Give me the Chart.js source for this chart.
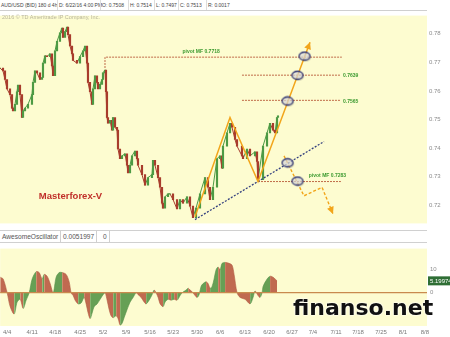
<!DOCTYPE html>
<html>
<head>
<meta charset="utf-8">
<script src="https://cdn.jsdelivr.net/npm/chart.js@4.4.0/dist/chart.umd.min.js"></script>
<style>
  body { margin: 0; width: 450px; height: 337px; overflow: hidden; background: #fff; position: relative;
         font-family: "Liberation Sans", Arial, sans-serif; }
  #hdr { position: absolute; left: 0; top: 0; width: 427px; height: 10px; border-bottom: 1px solid #cfcfcf;
         font-size: 5px; color: #444; line-height: 10px; white-space: nowrap; }
  #hdr span { position: absolute; top: 0; padding-left: 1px; border-left: 1px solid #ddd; }
  #copy { position: absolute; left: 2px; top: 14px; font-size: 5.5px; color: #b9b59c; white-space: nowrap; }
  #aoHdr { position: absolute; left: 0; top: 230px; width: 427px; height: 11px; border-top: 1px solid #d0d0d0;
           border-bottom: 1px solid #d0d0d0; font-size: 6.6px; color: #555; line-height: 11px; white-space: nowrap; }
  #aoHdr span { position: absolute; top: 0; padding: 0 2px; border-right: 1px solid #d0d0d0; }
  #mark { position: absolute; left: 293px; top: 297px; font: bold 22px "DejaVu Sans", sans-serif; color: #111;
          line-height: 22px; text-shadow: 0 0 2px #fff, 0 0 2px #fff; white-space: nowrap; }
  canvas { position: absolute; left: 0; }
</style>
</head>
<body>
<div id="hdr">
  <span style="left:0;border:none">AUD/USD (BID) 180 d 4h</span>
  <span style="left:57px">D: 6/22/16 4:00 PM</span>
  <span style="left:100px">O: 0.7508</span>
  <span style="left:128px">H: 0.7514</span>
  <span style="left:154px">L: 0.7497</span>
  <span style="left:178px">C: 0.7513</span>
  <span style="left:206px">R: 0.0017</span>
</div>
<canvas id="price" width="450" height="219" style="top:10px;width:450px;height:219px"></canvas>
<div id="copy">2016 © TD Ameritrade IP Company, Inc.</div>
<div id="aoHdr">
  <span style="left:0">AwesomeOscillator</span>
  <span style="left:61px">0.0051997</span>
  <span style="left:101px">0</span>
</div>
<canvas id="osc" width="450" height="95" style="top:242px;width:450px;height:95px"></canvas>
<div id="mark">finanso.net</div>

<script>
// x axis unit = trading day, 0 = 4/4
const weekLabels = ["4/4", "4/11", "4/18", "4/25", "5/2", "5/9", "5/16", "5/23", "5/30", "6/6",
  "6/13", "6/20", "6/27", "7/4", "7/11", "7/18", "7/25", "8/1", "8/8"];
const weekTickDays = [0, 5.38, 10.34, 15.72, 20.67, 25.62, 30.79, 35.75, 40.91, 45.87,
  51.25, 56.42, 61.37, 65.89, 70.84, 75.58, 80.53, 85.27, 90];
const priceTicks = [0.72, 0.73, 0.74, 0.75, 0.76, 0.77, 0.78];
const aoTicks = [0, 10];

const priceDays = [-1.51, -0.86, -0.43, 0, 0.65, 1.08, 1.29, 1.72, 2.15, 2.37,
  2.8, 3.23, 3.45, 3.88, 4.52, 5.38, 5.6, 6.03, 6.46, 7.11,
  7.54, 7.75, 8.18, 8.61, 9.26, 9.69, 9.91, 10.34, 10.77, 11.41,
  11.84, 12.06, 12.49, 12.92, 13.14, 13.57, 14, 14.21, 15.07, 15.72,
  16.37, 16.8, 17.23, 17.44, 17.87, 18.3, 18.52, 18.95, 19.38, 19.6,
  20.03, 20.46, 20.67, 21.1, 21.32, 21.53, 21.75, 22.18, 22.61, 22.83,
  23.26, 23.69, 23.9, 24.33, 24.76, 25.41, 25.84, 26.06, 26.49, 26.92,
  27.56, 27.99, 28.21, 29.07, 29.72, 30.36, 31.22, 31.44, 31.87, 32.52,
  32.95, 33.38, 33.59, 34.02, 34.67, 35.1, 35.75, 36.61, 37.25, 37.9,
  38.76, 39.41, 40.05, 40.7, 41.56, 42.64, 43.28, 43.71, 44.36, 45.22,
  45.87, 46.3, 46.51, 47.37, 48.03, 48.45, 49.1, 49.53, 50.6, 50.82,
  51.68, 52.33, 53.41, 53.84, 54.05, 55.13, 55.99, 56.63, 57.28, 57.71,
  58.14, 58.35];
const priceClose = [0.768, 0.767, 0.764, 0.7607, 0.7587, 0.754, 0.753, 0.7553, 0.7597, 0.762,
  0.7587, 0.7507, 0.753, 0.754, 0.7553, 0.7587, 0.763, 0.767, 0.7663, 0.764,
  0.7647, 0.7697, 0.7723, 0.772, 0.773, 0.7687, 0.7653, 0.774, 0.7773, 0.7803,
  0.782, 0.7787, 0.7807, 0.7823, 0.7797, 0.7757, 0.773, 0.7707, 0.7697, 0.772,
  0.774, 0.7757, 0.7697, 0.763, 0.7597, 0.7553, 0.7607, 0.7653, 0.763, 0.7607,
  0.7623, 0.764, 0.7663, 0.7673, 0.7597, 0.7507, 0.7487, 0.7497, 0.7463, 0.7507,
  0.7473, 0.7463, 0.7397, 0.7363, 0.7373, 0.738, 0.734, 0.7313, 0.734, 0.7373,
  0.739, 0.7363, 0.734, 0.7307, 0.727, 0.7297, 0.7307, 0.7357, 0.734, 0.7297,
  0.7263, 0.7207, 0.719, 0.723, 0.724, 0.724, 0.722, 0.7187, 0.722, 0.7207,
  0.723, 0.7197, 0.7157, 0.719, 0.724, 0.7297, 0.7263, 0.722, 0.7263, 0.7363,
  0.7373, 0.733, 0.7407, 0.7453, 0.7487, 0.7473, 0.743, 0.7407, 0.7373, 0.7363,
  0.7397, 0.7373, 0.7387, 0.7353, 0.729, 0.7407, 0.7453, 0.7487, 0.7463, 0.7453,
  0.7507, 0.7513];

const aoDays = [-1.51, -0.86, 0, 0.65, 1.51, 2.15, 2.8, 3.45, 4.09, 4.74,
  5.38, 6.24, 6.89, 7.54, 7.97, 8.61, 9.26, 9.91, 10.55, 11.2,
  11.84, 12.7, 13.35, 13.78, 14.21, 14.64, 15.29, 15.93, 16.58, 17.01,
  17.44, 17.87, 18.3, 18.73, 19.38, 20.03, 20.67, 21.1, 21.53, 21.96,
  22.39, 22.83, 23.47, 23.9, 24.33, 24.76, 25.19, 25.84, 26.49, 27.13,
  27.78, 28.21, 28.85, 29.5, 29.93, 30.58, 31.22, 31.65, 32.08, 32.52,
  32.95, 33.59, 34.02, 34.67, 35.31, 35.96, 36.61, 37.25, 37.68, 38.54,
  38.98, 39.41, 40.05, 40.48, 40.91, 41.34, 41.77, 42.21, 42.85, 43.28,
  43.71, 44.14, 44.57, 45, 45.44, 45.87, 46.3, 46.94, 47.8, 48.45,
  48.88, 49.53, 50.17, 51.25, 52.33, 52.97, 53.4, 54.05, 54.48, 54.91,
  55.13, 55.99, 56.63, 57.28, 57.71, 58.14];
const aoValues = [6.8, 6, 0, -6, -9.2, -4, -2.8, -6.8, -3.2, 0,
  6, 9.2, 8.8, 6, 8, 7.2, 4, 0, 6.8, 8.8,
  8.8, 8, 4.8, 0, -1.2, -3.2, -4.8, -4.4, -2, -4.8,
  -8.8, -11.2, -8.8, -6, -4.8, -2.8, -0.8, 0, -3.2, -7.2,
  -10, -10.8, -10, -11.2, -14, -13.2, -10.8, -7.2, -4, -2,
  0, -0.8, -2, -4, -4.8, -3.2, -0.8, 1.2, 0, -2,
  -4.8, -6, -4, -2.8, -3.2, -2.8, -3.2, -1.2, 0, 1.2,
  2, 1.2, 0, -1.2, -2, -0.8, 2.8, 4, 4.8, 4,
  2, 2.8, 6, 10, 11.2, 10, 12.8, 13.2, 12.8, 12,
  8, 0, -2, -2.8, -4.8, -2, 0.8, -1.2, -2, 0,
  2.8, 6, 7.2, 6.8, 6, 5.2];
const aoLast = 5.19974;

// annotations, in (day, price)
const pivotTopDays = [21.1, 21.1, 72.1];
const pivotTopPrices = [0.768, 0.7718, 0.7718];
const pivotMidDays = [50.6, 71.7];
const pivot2Price = 0.7655;
const pivot3Price = 0.7567;
const pivotLowDays = [54.05, 71.9];
const pivotLowPrice = 0.7283;
const zigDays = [40.48, 48.02, 54.05, 65.25];
const zigPrices = [0.716, 0.7507, 0.7283, 0.777];
const trendDays = [40.48, 68.26];
const trendPrices = [0.715, 0.7423];
const forkDays = [59.65, 63.95, 67.83, 70.2];
const forkPrices = [0.7373, 0.7233, 0.7263, 0.717];
const ringDays = [64.17, 62.66, 60.51, 60.51, 62.66];
const ringPrices = [0.772, 0.7653, 0.7563, 0.7347, 0.7283];
const noteTexts = ["pivot MF 0.7718", "0.7639", "0.7565", "pivot MF 0.7283", "Masterforex-V"];
const noteDays = [41.8, 72.35, 72.35, 69.0, 13.67];
const notePrices = [0.7737, 0.7653, 0.7563, 0.7303, 0.723];

const YELLOW = "#fdfcd0";
const UP = "#4d9a44", DOWN = "#a83c2c";
const PIVOT = "#bf6a48", ORANGE = "#f2a51a", NAVY = "#34407f", NOTE = "#3c9a30";
const X_MIN = -1.507, X_MAX = 90.44;

const pts = (xs, ys) => xs.map((x, i) => ({ x, y: Array.isArray(ys) ? ys[i] : ys }));

function ringImage() {
  const c = document.createElement("canvas");
  c.width = 15; c.height = 12;
  const g = c.getContext("2d");
  g.fillStyle = "rgba(120,120,120,0.35)";
  g.beginPath(); g.ellipse(8, 7, 5.5, 4, 0, 0, Math.PI * 2); g.fill();
  g.fillStyle = "rgba(235,235,235,0.6)";
  g.beginPath(); g.ellipse(7, 5.5, 5.5, 4, 0, 0, Math.PI * 2); g.fill();
  g.strokeStyle = "#2b2f6e"; g.lineWidth = 1.3; g.stroke();
  return c;
}

const panelBg = {
  id: "panelBg",
  beforeDraw(chart) {
    const a = chart.chartArea, ctx = chart.ctx;
    ctx.save();
    ctx.fillStyle = YELLOW;
    ctx.fillRect(a.left, a.top, a.right - a.left, a.bottom - a.top);
    ctx.restore();
  }
};

// arrow heads on the orange lines + text notes
const extras = {
  id: "extras",
  afterDatasetsDraw(chart) {
    const ctx = chart.ctx;
    ctx.save();
    chart.data.datasets.forEach((ds, i) => {
      if (!ds.arrowHead) return;
      const el = chart.getDatasetMeta(i).data;
      const p1 = el[el.length - 2], p2 = el[el.length - 1];
      const ang = Math.atan2(p2.y - p1.y, p2.x - p1.x);
      ctx.fillStyle = ds.borderColor;
      ctx.beginPath();
      ctx.moveTo(p2.x, p2.y);
      ctx.lineTo(p2.x - 7 * Math.cos(ang) + 3.5 * Math.sin(ang), p2.y - 7 * Math.sin(ang) - 3.5 * Math.cos(ang));
      ctx.lineTo(p2.x - 7 * Math.cos(ang) - 3.5 * Math.sin(ang), p2.y - 7 * Math.sin(ang) + 3.5 * Math.cos(ang));
      ctx.closePath();
      ctx.fill();
    });
    const xs = chart.scales.x, ys = chart.scales.y;
    ctx.textBaseline = "middle";
    noteTexts.forEach((t, i) => {
      const big = i === 4;
      ctx.font = big ? "bold 9.5px 'Liberation Sans', Arial" : "bold 5px 'Liberation Sans', Arial";
      ctx.fillStyle = big ? "#c0302a" : NOTE;
      ctx.textAlign = (i === 1 || i === 2) ? "left" : "center";
      ctx.fillText(t, xs.getPixelForValue(noteDays[i]), ys.getPixelForValue(notePrices[i]));
    });
    ctx.restore();
  }
};

const candleBodies = priceDays.map((d, i) => ({ x: d, y: [i ? priceClose[i - 1] : priceClose[i], priceClose[i]] }));
const candleColors = priceClose.map((v, i) => (i && v < priceClose[i - 1]) ? DOWN : UP);

new Chart(document.getElementById("price"), {
  type: "line",
  data: {
    datasets: [
      { data: pts(ringDays, ringPrices), showLine: false, pointStyle: ringImage(), pointRadius: 6 },
      { data: pts(zigDays, zigPrices), borderColor: ORANGE, borderWidth: 1.5, pointRadius: 0, arrowHead: true },
      { data: pts(forkDays, forkPrices), borderColor: ORANGE, borderWidth: 1.4, borderDash: [3, 2], pointRadius: 0, arrowHead: true },
      { data: pts(trendDays, trendPrices), borderColor: NAVY, borderWidth: 1.3, borderDash: [2, 1.5], pointRadius: 0 },
      { data: pts(pivotTopDays, pivotTopPrices), borderColor: PIVOT, borderWidth: 1, borderDash: [2, 1], pointRadius: 0 },
      { data: pts(pivotMidDays, pivot2Price), borderColor: PIVOT, borderWidth: 1, borderDash: [2, 1], pointRadius: 0 },
      { data: pts(pivotMidDays, pivot3Price), borderColor: PIVOT, borderWidth: 1, borderDash: [2, 1], pointRadius: 0 },
      { data: pts(pivotLowDays, pivotLowPrice), borderColor: PIVOT, borderWidth: 1, borderDash: [2, 1], pointRadius: 0 },
      { type: "bar", data: candleBodies, backgroundColor: candleColors, barThickness: 1.5, grouped: false, borderSkipped: false },
      { data: pts(priceDays, priceClose), borderWidth: 1, pointRadius: 0, tension: 0,
        segment: { borderColor: c => c.p1.parsed.y < c.p0.parsed.y ? DOWN : UP } }
    ]
  },
  options: {
    responsive: false,
    animation: false,
    devicePixelRatio: 1,
    layout: { padding: 0, autoPadding: false },
    plugins: { legend: { display: false }, tooltip: { enabled: false } },
    scales: {
      x: { type: "linear", min: X_MIN, max: X_MAX, offset: false, display: false },
      y: {
        position: "right", min: 0.71367, max: 0.78633,
        afterFit: s => { s.width = 23; },
        afterBuildTicks: s => { s.ticks = priceTicks.map(v => ({ value: v })); },
        ticks: { font: { size: 6, family: "'Liberation Sans', Arial" }, color: "#8c8c8c", padding: 2,
                 callback: v => v.toFixed(2) },
        grid: { display: false, drawTicks: false },
        border: { display: false }
      }
    }
  },
  plugins: [panelBg, extras]
});

// green value tag at the right of the oscillator
const lastTag = {
  id: "lastTag",
  afterDraw(chart) {
    const ctx = chart.ctx, y = chart.scales.y.getPixelForValue(aoLast);
    ctx.save();
    ctx.fillStyle = "#2f6e35";
    ctx.fillRect(chart.chartArea.right + 1, y - 4.5, 22, 9);
    ctx.fillStyle = "#fff";
    ctx.font = "6px 'Liberation Sans', Arial";
    ctx.textBaseline = "middle";
    ctx.fillText(aoLast.toFixed(5), chart.chartArea.right + 3, y);
    ctx.restore();
  }
};

new Chart(document.getElementById("osc"), {
  type: "line",
  data: {
    datasets: [
      { data: pts(aoDays, aoValues), fill: "origin", borderWidth: 0.6, pointRadius: 0, tension: 0.3,
        backgroundColor: "#6a9c55", borderColor: "#7a8a50",
        segment: {
          backgroundColor: c => c.p1.parsed.y < c.p0.parsed.y ? "#c06a50" : "#66a055",
          borderColor: c => c.p1.parsed.y < c.p0.parsed.y ? "#b05a42" : "#55904a"
        } }
    ]
  },
  options: {
    responsive: false,
    animation: false,
    devicePixelRatio: 1,
    layout: { padding: 0, autoPadding: false },
    plugins: { legend: { display: false }, tooltip: { enabled: false } },
    scales: {
      x: {
        type: "linear", min: X_MIN, max: X_MAX, offset: false,
        afterFit: s => { s.height = 11; },
        afterBuildTicks: s => { s.ticks = weekTickDays.map(v => ({ value: v })); },
        ticks: { autoSkip: false, maxRotation: 0, padding: 3, font: { size: 6, family: "'Liberation Sans', Arial" },
                 color: "#7a7a7a", callback: (v, i) => weekLabels[i] },
        grid: { display: false, drawTicks: false },
        border: { display: false }
      },
      y: {
        position: "right", min: -14.4, max: 19.2,
        afterFit: s => { s.width = 23; },
        afterBuildTicks: s => { s.ticks = aoTicks.map(v => ({ value: v })); },
        ticks: { font: { size: 6, family: "'Liberation Sans', Arial" }, color: "#8c8c8c", padding: 3 },
        grid: { drawTicks: false, color: c => c.tick.value === 0 ? "#c98a4e" : "transparent", lineWidth: 1.2, z: 1 },
        border: { display: false }
      }
    }
  },
  plugins: [panelBg, lastTag]
});
</script>
</body>
</html>
